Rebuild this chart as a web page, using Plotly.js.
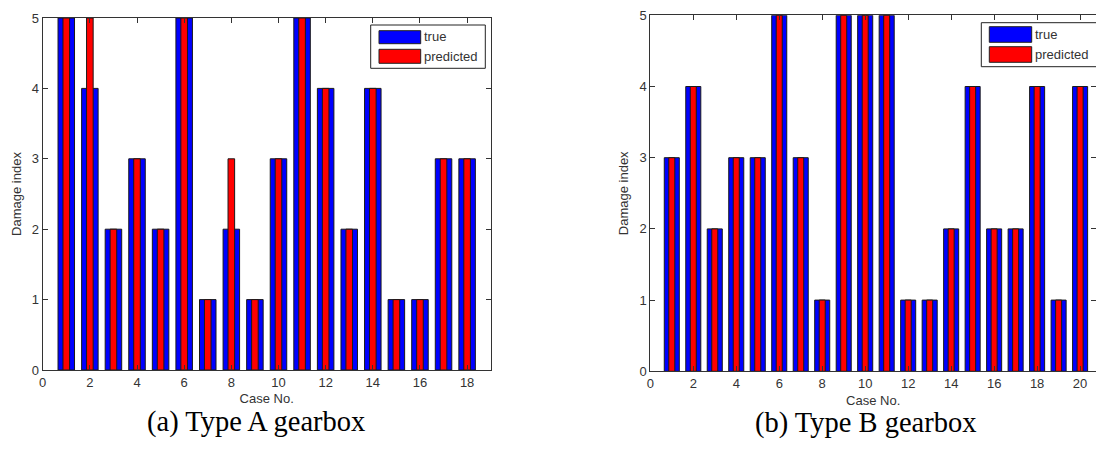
<!DOCTYPE html>
<html>
<head>
<meta charset="utf-8">
<script src="https://cdn.plot.ly/plotly-3.0.1.min.js"></script>
<style>html,body{margin:0;padding:0;background:#fff;}#chart{width:1096px;height:449px;}</style>
</head>
<body>
<div id="chart"></div>
<script>
// ---- data ----
const casesA = [1,2,3,4,5,6,7,8,9,10,11,12,13,14,15,16,17,18];
const trueA = [5,4,2,3,2,5,1,2,1,3,5,4,2,4,1,1,3,3];
const predA = [5,5,2,3,2,5,1,3,1,3,5,4,2,4,1,1,3,3];
const casesB = [1,2,3,4,5,6,7,8,9,10,11,12,13,14,15,16,17,18,19,20];
const trueB = [3,4,2,3,3,5,3,1,5,5,5,1,1,2,4,2,2,4,1,4];
const predB = [3,4,2,3,3,5,3,1,5,5,5,1,1,2,4,2,2,4,1,4];
const seriesNames = ["true", "predicted"];
const captions = ["(a) Type A gearbox", "(b) Type B gearbox"];
const xTickValsA = [0,2,4,6,8,10,12,14,16,18];
const xTickValsB = [0,2,4,6,8,10,12,14,16,18,20];
const yTickVals = [0,1,2,3,4,5];

const W = 1096, H = 449;
const px = x => x / W;
const py = y => 1 - y / H;

const BLUE = "#0000FF", RED = "#FF0000", EDGE = "#1a1a1a";
const tickFont = {family: "Liberation Sans, Arial, sans-serif", size: 13, color: "#333"};

function bars(x, y, color, width, xa, ya, name) {
  return {type: "bar", x: x, y: y, width: width, name: name, xaxis: xa, yaxis: ya,
    marker: {color: color, line: {color: EDGE, width: 1}}, opacity: 1, showlegend: false,
    hoverinfo: "x+y"};
}

const data = [
  bars(casesA, trueA, BLUE, 0.7, "x", "y", seriesNames[0]),
  bars(casesA, predA, RED, 0.28, "x", "y", seriesNames[1]),
  bars(casesB, trueB, BLUE, 0.7, "x2", "y2", seriesNames[0]),
  bars(casesB, predB, RED, 0.28, "x2", "y2", seriesNames[1])
];

function xax(domain, range, tv) {
  return {domain: domain, range: range, tickvals: tv, ticks: "inside", ticklen: 5, tickcolor: "#333",
    showline: true, linecolor: "#333", linewidth: 1, mirror: "ticks", showgrid: false, zeroline: false,
    tickfont: tickFont, fixedrange: true,
    title: {text: "Case No.", font: tickFont, standoff: 5}};
}
function yax(domain) {
  return {domain: domain, range: [0, 5], tickvals: yTickVals, ticks: "inside", ticklen: 5, tickcolor: "#333",
    showline: true, linecolor: "#333", linewidth: 1, mirror: "ticks", showgrid: false, zeroline: false,
    tickfont: tickFont, fixedrange: true,
    title: {text: "Damage index", font: tickFont, standoff: 7}};
}

const xA = xax([px(42.7), px(490.7)], [0, 19], xTickValsA);
const yA = yax([py(370), py(18)]);
const xB = xax([px(650.3), 1], [0, (W - 650.3) / 21.49], xTickValsB);
const yB = yax([py(371.3), py(15.3)]);
xB.anchor = "y2"; yB.anchor = "x2";
xA.anchor = "y"; yA.anchor = "x";

// legends drawn as boxes with swatches
function legend(box, sw1, sw2, tx, ty1, ty2) {
  const shapes = [
    {type: "rect", xref: "paper", yref: "paper", x0: px(box[0]), x1: px(box[1]), y0: py(box[2]), y1: py(box[3]),
      line: {color: "#222", width: 1}, fillcolor: "#fff"},
    {type: "rect", xref: "paper", yref: "paper", x0: px(sw1[0]), x1: px(sw1[1]), y0: py(sw1[2]), y1: py(sw1[3]),
      line: {color: "#222", width: 1}, fillcolor: BLUE},
    {type: "rect", xref: "paper", yref: "paper", x0: px(sw2[0]), x1: px(sw2[1]), y0: py(sw2[2]), y1: py(sw2[3]),
      line: {color: "#222", width: 1}, fillcolor: RED}
  ];
  const anns = [
    {xref: "paper", yref: "paper", x: px(tx), y: py(ty1), text: seriesNames[0], showarrow: false,
      xanchor: "left", yanchor: "middle", font: tickFont},
    {xref: "paper", yref: "paper", x: px(tx), y: py(ty2), text: seriesNames[1], showarrow: false,
      xanchor: "left", yanchor: "middle", font: tickFont}
  ];
  return {shapes, anns};
}
const lgA = legend([370.7, 485.3, 68.3, 25], [379, 420.7, 43.7, 30.7], [379, 420.7, 63.3, 49.3], 421.5, 37, 56.5);
const lgB = legend([981.3, 1110, 66.7, 22.7], [989.3, 1031.7, 42.3, 26.7], [989.3, 1031.7, 62.3, 46.7], 1032.5, 35, 54.5);

const capFont = {family: "Liberation Serif, Times New Roman, serif", size: 28.5, color: "#000"};
const layout = {
  width: W, height: H,
  margin: {l: 0, r: 0, t: 0, b: 0},
  paper_bgcolor: "#fff", plot_bgcolor: "#fff",
  barmode: "overlay", showlegend: false,
  xaxis: xA, yaxis: yA, xaxis2: xB, yaxis2: yB,
  shapes: [...lgA.shapes, ...lgB.shapes],
  annotations: [...lgA.anns, ...lgB.anns,
    {xref: "paper", yref: "paper", x: px(256), y: py(421.5), text: captions[0], showarrow: false,
      xanchor: "center", yanchor: "middle", font: capFont},
    {xref: "paper", yref: "paper", x: px(865), y: py(423), text: captions[1], showarrow: false,
      xanchor: "center", yanchor: "middle", font: capFont}
  ]
};

Plotly.newPlot("chart", data, layout, {displayModeBar: false, staticPlot: true});
</script>
</body>
</html>
